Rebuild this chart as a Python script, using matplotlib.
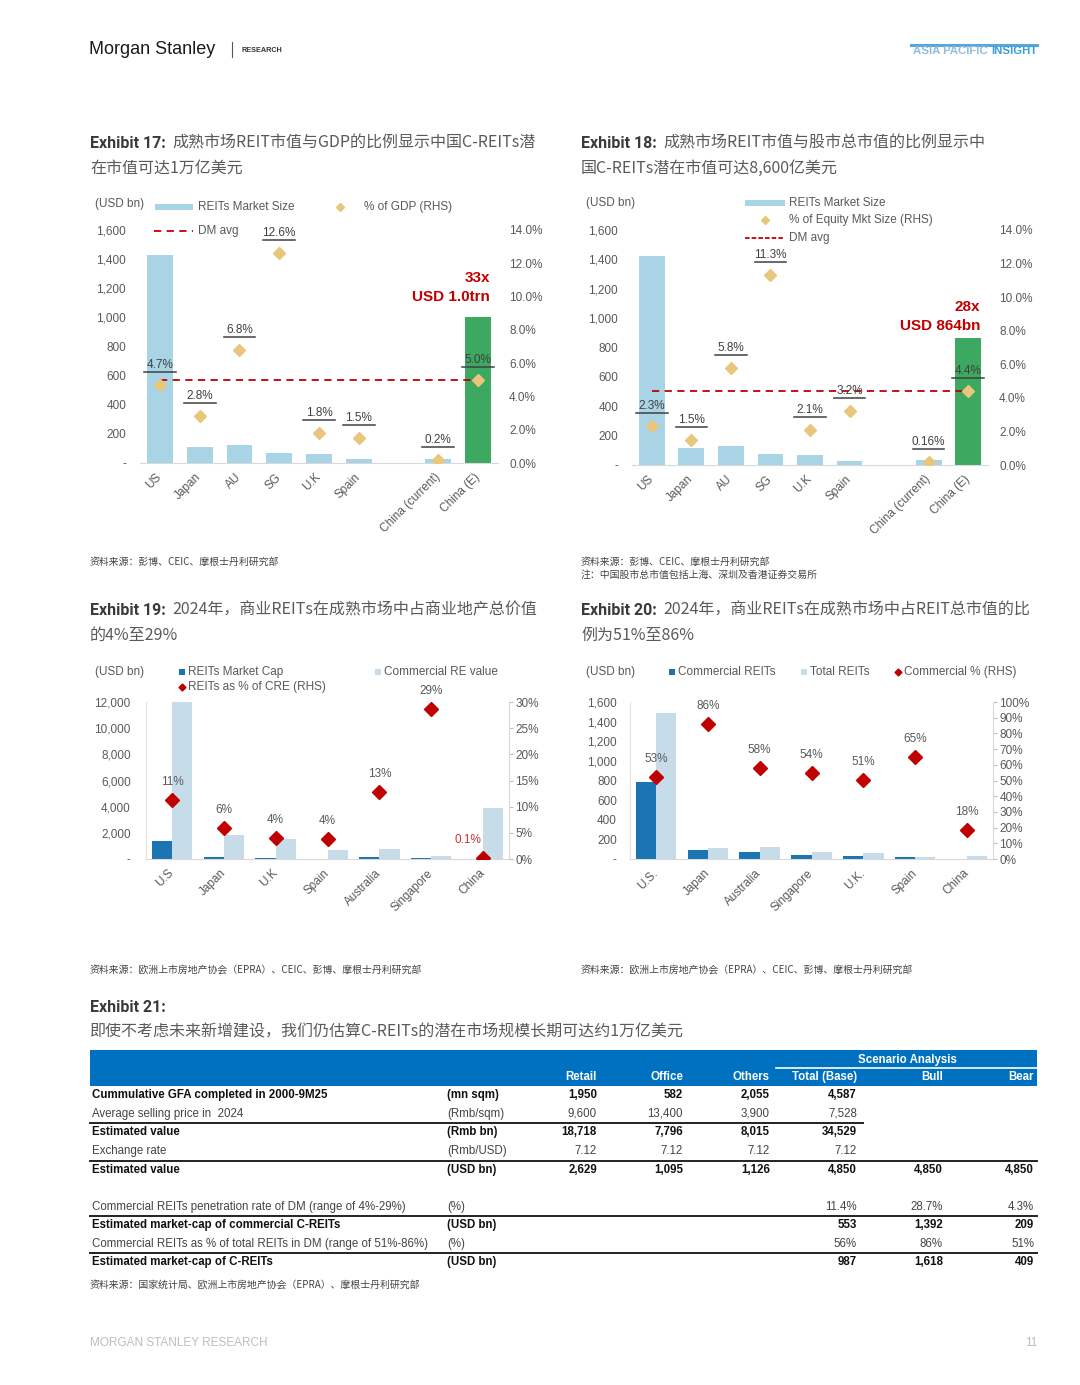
import matplotlib
matplotlib.use("Agg")
import matplotlib.pyplot as plt
import numpy as np
from matplotlib.lines import Line2D
from matplotlib.patches import Rectangle
from matplotlib.transforms import offset_copy

plt.rcParams['font.family'] = ['Liberation Sans', 'Noto Sans CJK SC', 'DejaVu Sans']
plt.rcParams['font.size'] = 8.5
CJK = ['Noto Sans CJK SC', 'DejaVu Sans']

W, H = 1080, 1385
GREY = '#595959'
LBLUE = '#A8D4E6'
GREEN = '#3DA85F'
GOLD = '#E8C67C'
RED = '#C00000'
DBLUE = '#1B75B3'
PBLUE = '#C6DDE9'

# ---- Exhibit 17 / 18 data ----
cats_dm = ['US', 'Japan', 'AU', 'SG', 'U.K', 'Spain', '', 'China (current)', 'China (E)']
size17 = [1425, 112, 127, 70, 65, 26, np.nan, 28, 1000]
pct_gdp = [4.7, 2.8, 6.8, 12.6, 1.8, 1.5, np.nan, 0.2, 5.0]
gdp_labels = ['4.7%', '2.8%', '6.8%', '12.6%', '1.8%', '1.5%', '', '0.2%', '5.0%']
dm_avg_gdp = 5.0

size18 = [1425, 115, 128, 72, 66, 27, np.nan, 32, 864]
pct_eq = [2.3, 1.5, 5.8, 11.3, 2.1, 3.2, np.nan, 0.16, 4.4]
eq_labels = ['2.3%', '1.5%', '5.8%', '11.3%', '2.1%', '3.2%', '', '0.16%', '4.4%']
dm_avg_eq = 4.4

# ---- Exhibit 19 data ----
cats19 = ['U.S', 'Japan', 'U.K', 'Spain', 'Australia', 'Singapore', 'China']
reit_cap19 = [1400, 127, 50, 25, 127, 76, 5]
cre_value = [12000, 1830, 1525, 712, 763, 203, 3864]
reit_pct_cre = [11.3, 5.9, 4.1, 3.8, 12.8, 28.7, 0.1]
labels19 = ['11%', '6%', '4%', '4%', '13%', '29%', '0.1%']

# ---- Exhibit 20 data ----
cats20 = ['U.S.', 'Japan', 'Australia', 'Singapore', 'U.K.', 'Spain', 'China']
comm_reits = [780, 96, 70, 36, 31, 16, 5]
total_reits = [1488, 112, 122, 67, 61, 25, 27]
comm_pct = [52.5, 85.8, 57.7, 54.5, 50.5, 65.2, 18.2]
labels20 = ['53%', '86%', '58%', '54%', '51%', '65%', '18%']

# ---- Exhibit 21 table ----
tbl_cols = ['Retail', 'Office', 'Others', 'Total (Base)', 'Bull', 'Bear']
tbl_rows = [
    ('Cummulative GFA completed in 2000-9M25', '(mn sqm)', ['1,950', '582', '2,055', '4,587', '', ''], True),
    ('Average selling price in  2024', '(Rmb/sqm)', ['9,600', '13,400', '3,900', '7,528', '', ''], False),
    ('Estimated value', '(Rmb bn)', ['18,718', '7,796', '8,015', '34,529', '', ''], True),
    ('Exchange rate', '(Rmb/USD)', ['7.12', '7.12', '7.12', '7.12', '', ''], False),
    ('Estimated value', '(USD bn)', ['2,629', '1,095', '1,126', '4,850', '4,850', '4,850'], True),
    ('Commercial REITs penetration rate of DM (range of 4%-29%)', '(%)', ['', '', '', '11.4%', '28.7%', '4.3%'], False),
    ('Estimated market-cap of commercial C-REITs', '(USD bn)', ['', '', '', '553', '1,392', '209'], True),
    ('Commercial REITs as % of total REITs in DM (range of 51%-86%)', '(%)', ['', '', '', '56%', '86%', '51%'], False),
    ('Estimated market-cap of C-REITs', '(USD bn)', ['', '', '', '987', '1,618', '409'], True),
]

fig = plt.figure(figsize=(W / 100, H / 100), dpi=100)
fig.patch.set_facecolor('white')


def add_axes_px(l, t, r, b):
    return fig.add_axes([l / W, 1 - b / H, (r - l) / W, (b - t) / H])


def ftext(x, y, s, **kw):
    return fig.text(x / W, 1 - y / H, s, **kw)


def fline(xs, ys, **kw):
    fig.add_artist(Line2D([v / W for v in xs], [1 - v / H for v in ys], **kw))


def frect(x0, y0, x1, y1, color):
    fig.add_artist(Rectangle((x0 / W, 1 - y1 / H), (x1 - x0) / W, (y1 - y0) / H,
                             transform=fig.transFigure, color=color, lw=0))


def fdiamond(x, y, color, ms):
    fig.add_artist(Line2D([x / W], [1 - y / H], marker='D', ls='none', color=color, ms=ms))


def title(x, y, head, rest, x_rest, line2):
    ftext(x, y, head, family=['Roboto', 'DejaVu Sans'], fontsize=11.5, weight='bold',
          color='#3a3a3a', va='center')
    if rest:
        ftext(x_rest, y, rest, family=CJK, fontsize=11.5, color='#5a5a5a', va='center')
    ftext(x, y + 25, line2, family=CJK, fontsize=11.5, color='#5a5a5a', va='center')


def source(x, y, s):
    ftext(x, y, s, family=CJK, fontsize=7.1, color='#444444', va='center')


def dm_chart(box, size, pct, labels, dm_avg, big1, big2, off1, off2):
    ax = add_axes_px(*box)
    x = np.arange(len(cats_dm))
    colors = [GREEN if c == 'China (E)' else LBLUE for c in cats_dm]
    ax.bar(x, size, width=0.65, color=colors, zorder=2)
    ax.set_xlim(-0.5, len(cats_dm) - 0.5)
    ax.set_ylim(0, 1600)
    yt = np.arange(0, 1601, 200)
    ax.set_yticks(yt)
    ax.set_yticklabels(['-' if v == 0 else f'{v:,}' for v in yt])
    keep = [i for i, c in enumerate(cats_dm) if c]
    ax.set_xticks(x[keep])
    ax.set_xticklabels([cats_dm[i] for i in keep], rotation=45, ha='right', va='center',
                       rotation_mode='anchor')
    ax.tick_params(axis='y', length=0, pad=10, labelcolor=GREY)
    ax.tick_params(axis='x', length=0, pad=9, labelcolor=GREY)
    for s in ['top', 'left', 'right']:
        ax.spines[s].set_visible(False)
    ax.spines['bottom'].set_color('#D9D9D9')

    ax2 = ax.twinx()
    ax2.set_ylim(0, 14)
    rt = np.arange(0, 15, 2)
    ax2.set_yticks(rt)
    ax2.set_yticklabels([f'{v:.1f}%' for v in rt])
    ax2.tick_params(axis='y', length=0, pad=8, labelcolor=GREY)
    for s in ax2.spines.values():
        s.set_visible(False)
    ax2.plot([x[0], x[-1]], [dm_avg, dm_avg], color=RED, lw=1.3, ls=(0, (4, 3)), zorder=3)
    ax2.plot(x, pct, 'D', color=GOLD, ms=6, ls='none', zorder=4)
    t_lab = offset_copy(ax2.transData, fig=fig, x=0, y=14, units='dots')
    t_ul = offset_copy(ax2.transData, fig=fig, x=0, y=13, units='dots')
    for xi, p, lab in zip(x, pct, labels):
        if np.isnan(p):
            continue
        ax2.text(xi, p, lab, transform=t_lab, ha='center', va='bottom', color='#404040',
                 fontsize=8.5, zorder=5)
        ax2.plot([xi - 0.4, xi + 0.4], [p, p], transform=t_ul, color='#404040', lw=1.1, zorder=5)
    ax.annotate(big1, (x[-1], size[-1]), xytext=(12, off1), textcoords='offset pixels',
                ha='right', va='center', color=RED, weight='bold', fontsize=11)
    ax.annotate(big2, (x[-1], size[-1]), xytext=(12, off2), textcoords='offset pixels',
                ha='right', va='center', color=RED, weight='bold', fontsize=11)
    return ax


def pair_chart(box, cats, dark, light, pct, labels, ymax, ystep, rmax, rstep, lpad):
    ax = add_axes_px(*box)
    x = np.arange(len(cats))
    ax.bar(x - 0.195, dark, width=0.39, color=DBLUE, zorder=2)
    ax.bar(x + 0.195, light, width=0.39, color=PBLUE, zorder=2)
    ax.set_xlim(-0.5, len(cats) - 0.5)
    ax.set_ylim(0, ymax)
    yt = np.arange(0, ymax + 1, ystep)
    ax.set_yticks(yt)
    ax.set_yticklabels(['-' if v == 0 else f'{v:,}' for v in yt])
    ax.set_xticks(x)
    ax.set_xticklabels(cats, rotation=45, ha='right', va='center', rotation_mode='anchor')
    ax.tick_params(axis='y', length=0, pad=lpad, labelcolor=GREY)
    ax.tick_params(axis='x', length=0, pad=9, labelcolor=GREY)
    for s in ['top', 'right']:
        ax.spines[s].set_visible(False)
    ax.spines['bottom'].set_color('#D9D9D9')
    ax.spines['left'].set_color('#E3E3E3')

    ax2 = ax.twinx()
    ax2.set_ylim(0, rmax)
    rt = np.arange(0, rmax + 1, rstep)
    ax2.set_yticks(rt)
    ax2.set_yticklabels([f'{v}%' for v in rt])
    ax2.tick_params(axis='y', length=3, width=0.8, color='#BFBFBF', pad=1.5,
                    direction='out', labelcolor=GREY)
    for s in ['top', 'left', 'bottom']:
        ax2.spines[s].set_visible(False)
    ax2.spines['right'].set_color('#D9D9D9')
    ax2.plot(x, pct, 'D', color=RED, ms=7.5, ls='none', zorder=4)
    return ax, ax2, x


# ---------------- page header ----------------
ftext(89, 49, 'Morgan Stanley', fontsize=13, color='#1a1a1a', va='center')
fline([232, 232], [42, 57], color='#555555', lw=0.8)
ftext(242, 50, 'RESEARCH', fontsize=5.2, weight='bold', color='#333333', va='center')
fline([911, 1037], [44.5, 44.5], color='#5AA6DA', lw=2.2)
ftext(1037, 51, 'INSIGHT', fontsize=8.2, weight='bold', color='#3C9BDA', va='center', ha='right')
ftext(988, 51, 'ASIA PACIFIC', fontsize=8.2, weight='bold', color='#8DBEE0', va='center', ha='right')

# ---------------- Exhibit 17 ----------------
title(90, 143, 'Exhibit 17:', '成熟市场REIT市值与GDP的比例显示中国C-REITs潜', 172, '在市值可达1万亿美元')
dm_chart((140, 230, 498, 463), size17, pct_gdp, gdp_labels, dm_avg_gdp, '33x', 'USD 1.0trn', 39, 20)
ftext(95, 204, '(USD bn)', color=GREY, va='center')
frect(155, 204, 193, 210, LBLUE)
ftext(198, 207, 'REITs Market Size', color=GREY, va='center')
fdiamond(340, 207, GOLD, 4.5)
ftext(364, 207, '% of GDP (RHS)', color=GREY, va='center')
fline([154, 193], [231, 231], color=RED, lw=1.3, ls=(0, (4, 3)))
ftext(198, 231, 'DM avg', color=GREY, va='center')
source(90, 562, '资料来源：彭博、CEIC、摩根士丹利研究部')

# ---------------- Exhibit 18 ----------------
title(581, 143, 'Exhibit 18:', '成熟市场REIT市值与股市总市值的比例显示中', 663, '国C-REITs潜在市值可达8,600亿美元')
dm_chart((632, 230, 988, 465), size18, pct_eq, eq_labels, dm_avg_eq, '28x', 'USD 864bn', 31, 12)
ftext(586, 203, '(USD bn)', color=GREY, va='center')
frect(745, 200, 785, 206, LBLUE)
ftext(789, 203, 'REITs Market Size', color=GREY, va='center')
fdiamond(765, 220, GOLD, 4.5)
ftext(789, 220, '% of Equity Mkt Size (RHS)', color=GREY, va='center')
fline([745, 785], [238, 238], color=RED, lw=1.3, ls=(0, (2.5, 1.2)))
ftext(789, 238, 'DM avg', color=GREY, va='center')
source(581, 562, '资料来源：彭博、CEIC、摩根士丹利研究部')
source(581, 575, '注：中国股市总市值包括上海、深圳及香港证券交易所')

# ---------------- Exhibit 19 ----------------
title(90, 610, 'Exhibit 19:', '2024年，商业REITs在成熟市场中占商业地产总价值', 172, '的4%至29%')
ax19, ax19r, x19 = pair_chart((146, 702, 509, 859), cats19, reit_cap19, cre_value, reit_pct_cre,
                              labels19, 12000, 2000, 30, 5, 11)
for xi, p, lab in zip(x19, reit_pct_cre, labels19):
    if lab == '0.1%':
        ax19r.annotate(lab, (xi, p), xytext=(-15, 12), textcoords='offset pixels',
                       ha='center', va='bottom', color='#D03030', fontsize=8.5)
    else:
        ax19r.annotate(lab, (xi, p), xytext=(0, 12), textcoords='offset pixels',
                       ha='center', va='bottom', color=GREY, fontsize=8.5)
ftext(95, 672, '(USD bn)', color=GREY, va='center')
frect(179, 669, 185, 675, DBLUE)
ftext(188, 672, 'REITs Market Cap', color=GREY, va='center')
fdiamond(182, 687, RED, 3.5)
ftext(188, 687, 'REITs as % of CRE (RHS)', color=GREY, va='center')
frect(375, 669, 381, 675, PBLUE)
ftext(384, 672, 'Commercial RE value', color=GREY, va='center')
source(90, 970, '资料来源：欧洲上市房地产协会（EPRA）、CEIC、彭博、摩根士丹利研究部')

# ---------------- Exhibit 20 ----------------
title(581, 610, 'Exhibit 20:', '2024年，商业REITs在成熟市场中占REIT总市值的比', 663, '例为51%至86%')
ax20, ax20r, x20 = pair_chart((630, 702, 993, 859), cats20, comm_reits, total_reits, comm_pct,
                              labels20, 1600, 200, 100, 10, 9.5)
for xi, p, lab in zip(x20, comm_pct, labels20):
    ax20r.annotate(lab, (xi, p), xytext=(0, 12), textcoords='offset pixels',
                   ha='center', va='bottom', color=GREY, fontsize=8.5)
ftext(586, 672, '(USD bn)', color=GREY, va='center')
frect(669, 669, 675, 675, DBLUE)
ftext(678, 672, 'Commercial REITs', color=GREY, va='center')
frect(801, 669, 807, 675, PBLUE)
ftext(810, 672, 'Total REITs', color=GREY, va='center')
fdiamond(898, 672, RED, 3.5)
ftext(904, 672, 'Commercial % (RHS)', color=GREY, va='center')
source(581, 970, '资料来源：欧洲上市房地产协会（EPRA）、CEIC、彭博、摩根士丹利研究部')

# ---------------- Exhibit 21 table ----------------
ftext(90, 1007, 'Exhibit 21:', family=['Roboto', 'DejaVu Sans'], fontsize=11.5, weight='bold',
      color='#3a3a3a', va='center')
ftext(90, 1032, '即使不考虑未来新增建设，我们仍估算C-REITs的潜在市场规模长期可达约1万亿美元',
      family=CJK, fontsize=11.5, color='#5a5a5a', va='center')

frect(90, 1050, 1037, 1086, '#0070C0')
col_x = [597, 683, 770, 857, 943, 1034]
ftext(907, 1060, 'Scenario Analysis', color='white', weight='bold', fontsize=8.3, ha='center', va='center')
fline([776, 1037], [1068, 1068], color='white', lw=1.2)
for cx, c in zip(col_x, tbl_cols):
    ftext(cx, 1077, c, color='white', weight='bold', fontsize=8.3, ha='right', va='center')

row_y = [1095, 1114, 1132, 1151, 1170, 1207, 1225, 1244, 1262]
for ry, (lab, unit, vals, bold) in zip(row_y, tbl_rows):
    w = 'bold' if bold else 'normal'
    col = '#111111' if bold else '#444444'
    ftext(92, ry, lab, fontsize=8.3, weight=w, color=col, va='center')
    ftext(447, ry, unit, fontsize=8.3, weight=w, color=col, va='center')
    for cx, v in zip(col_x, vals):
        if v:
            ftext(cx, ry, v, fontsize=8.3, weight=w, color=col, ha='right', va='center')

fline([90, 863], [1123, 1123], color='#222222', lw=1.4)
for ly in [1161, 1216, 1253]:
    fline([90, 1037], [ly, ly], color='#222222', lw=1.4)
source(90, 1285, '资料来源：国家统计局、欧洲上市房地产协会（EPRA）、摩根士丹利研究部')

# ---------------- footer ----------------
ftext(90, 1343, 'MORGAN STANLEY RESEARCH', fontsize=8.5, color='#BDBDBD', va='center')
ftext(1037, 1343, '11', fontsize=8.5, color='#BDBDBD', va='center', ha='right')

fig.savefig('out.png', dpi=100, facecolor='white')
